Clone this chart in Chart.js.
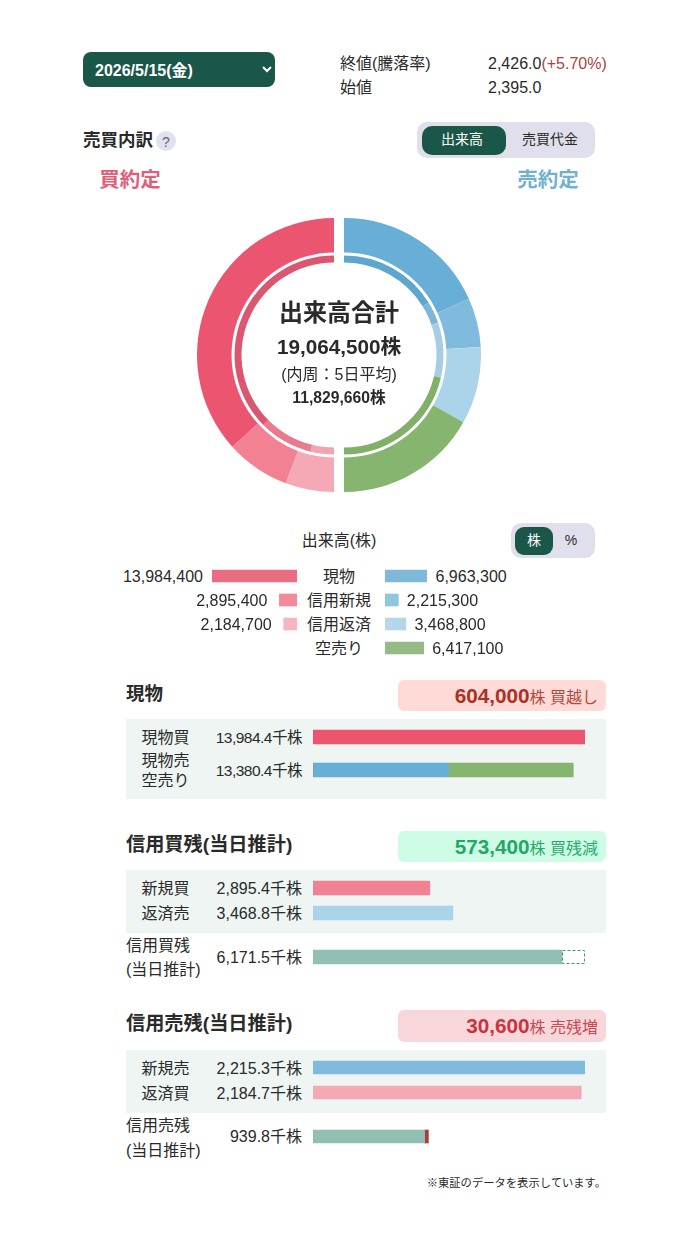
<!DOCTYPE html>
<html lang="ja"><head><meta charset="utf-8"><title>売買内訳</title>
<script src="https://cdn.jsdelivr.net/npm/chart.js@4"></script>
<style>
html,body{margin:0;padding:0;background:#fff;width:696px;height:1238px;overflow:hidden}
body{position:relative;font-family:"Liberation Sans","Noto Sans CJK JP",sans-serif;color:#2a2a2a}
.t{position:absolute;white-space:nowrap;line-height:1;transform:translateY(-50%)}
.c{transform:translate(-50%,-50%)}
.box{position:absolute}
canvas{position:absolute;display:block}
select{position:absolute;left:83px;top:52px;width:192px;height:35px;border:0;border-radius:8px;background:#1b5748;color:#fff;font:bold 16px "Liberation Sans","Noto Sans CJK JP",sans-serif;padding:2px 0 0 8px}
</style></head><body>
<script>
// ---- values ----
const buyLabels  = ['信用返済','信用新規','現物'];
const buyToday   = [2184700, 2895400, 13984400];
const buyAverage = [899000, 2077000, 8853660];
const sellLabels  = ['現物','信用新規','信用返済','空売り'];
const sellToday   = [6963300, 2215300, 3468800, 6417100];
const sellAverage = [3825000, 841000, 2116000, 5047660];
const legendBuy  = [13984400, 2895400, 2184700];
const legendSell = [6963300, 2215300, 3468800, 6417100];
const legendRows = ['現物','信用新規','信用返済','空売り'];
const genbutsuRows = ['現物買','現物売'];
const genbutsuBuy  = [13984.4, 0];
const genbutsuSell = [0, 6963.3];
const genbutsuShort = [0, 6417.1];
const genbutsuTotal = [13984.4, 13380.4];
const marginLongRows = ['新規買','返済売'];
const marginLongVals = [2895.4, 3468.8];
const marginLongRemain = [6171.5];
const marginLongDelta = [573.4];
const marginShortRows = ['新規売','返済買'];
const marginShortVals = [2215.3, 2184.7];
const marginShortRemain = [909.2];
const marginShortDelta = [30.6];
const marginShortTotal = 939.8;

// ---- colours ----
const RED='#ec5570',PINK='#f18193',LPINK='#f5a9b5',BLUE='#67afd6',MBLUE='#80bbdd',LBLUE='#abd3e9',GREEN='#85b56f',TEAL='#92bfb3';
const RED2='#db566f',PINK2='#ea7a8d',LPINK2='#f2a5b1',BLUE2='#5fa6cd',MBLUE2='#7db6d7',LBLUE2='#a6cde4',GREEN2='#80b06a';

function t(x,y,text,css,align){
  const s=document.createElement('span');
  s.className='t'+(align==='c'?' c':'');
  if(align==='r'){s.style.right=(696-x)+'px';}else{s.style.left=x+'px';}
  if(/font-size:1[56](\.5)?px|font-size:1[789]|font-size:20\.5|font-size:11/.test(css||'')) y+=1;
  s.style.top=y+'px';
  s.style.cssText+=';'+(css||'');
  s.innerHTML=text;
  document.body.appendChild(s);return s;
}
function box(x,y,w,h,bg,r){
  const d=document.createElement('div');d.className='box';
  d.style.cssText=`left:${x}px;top:${y}px;width:${w}px;height:${h}px;background:${bg};border-radius:${r||0}px`;
  document.body.appendChild(d);
}
function canvas(x,y,w,h){
  const c=document.createElement('canvas');
  c.style.left=x+'px';c.style.top=y+'px';c.width=w;c.height=h;c.style.width=w+'px';c.style.height=h+'px';
  document.body.appendChild(c);return c;
}
const fmt=n=>n.toLocaleString('en-US');
const fmt1=n=>n.toLocaleString('en-US',{minimumFractionDigits:1,maximumFractionDigits:1});

// header
const sel=document.createElement('select');sel.innerHTML='<option>2026/5/15(金)</option>';document.body.appendChild(sel);
t(340,63,'終値(騰落率)','font-size:16px');
t(340,87,'始値','font-size:16px');
t(488,63,'2,426.0<span style="color:#a8463e">(+5.70%)</span>','font-size:16px');
t(488,87,'2,395.0','font-size:16px');
t(83,140,'売買内訳','font-size:17.5px;font-weight:bold');
box(156,131,20,20,'#e0e3ee',10);
t(166,142,'?','font-size:14px;color:#667',"c");
box(417,122,178,36,'#e0e0ec',10);
box(422,126,84,29,'#1b5748',10);
t(462,139,'出来高','font-size:14px;color:#fff','c');
t(550,139,'売買代金','font-size:14px','c');
t(130,179,'買約定','font-size:20.5px;font-weight:bold;color:#df6079','c');
t(548,179,'売約定','font-size:20.5px;font-weight:bold;color:#6fb2d0','c');

// donut: two half rings pulled apart
function halfRing(x,rotation,today,average,colors,innerColors,labels){
  new Chart(canvas(x,218,137,274),{type:'doughnut',
    data:{labels,datasets:[
      {data:today,backgroundColor:colors,borderWidth:0,weight:34.5},
      {data:[1],backgroundColor:'rgba(0,0,0,0)',borderWidth:0,weight:3},
      {data:average,backgroundColor:innerColors,borderWidth:0,weight:7}]},
    options:{responsive:false,animation:false,rotation,circumference:180,cutout:'67.5%',
      layout:{padding:0},events:[],plugins:{legend:{display:false},tooltip:{enabled:false}}}});
}
halfRing(197,180,buyToday,buyAverage,[LPINK,PINK,RED],[LPINK2,PINK2,RED2],buyLabels);
halfRing(344,0,sellToday,sellAverage,[BLUE,MBLUE,LBLUE,GREEN],[BLUE2,MBLUE2,LBLUE2,GREEN2],sellLabels);
t(339,313,'出来高合計','font-size:24px;font-weight:bold','c');
t(339,347,'19,064,500株','font-size:20.7px;font-weight:bold','c');
t(339,374,'(内周：5日平均)','font-size:16px','c');
t(339,398,'11,829,660株','font-size:15.7px;font-weight:bold','c');

// generic horizontal bars
const dashPlugin={id:'dash',afterDatasetsDraw(chart){
  chart.data.datasets.forEach((d,i)=>{ if(!d.dashed) return;
    chart.getDatasetMeta(i).data.forEach(el=>{
      const c=chart.ctx;c.save();c.strokeStyle='#3c9a80';c.lineWidth=1;c.setLineDash([3,2]);
      const l=Math.round(Math.min(el.x,el.base))+.5,r=Math.round(Math.max(el.x,el.base))-.5;
      const top=Math.round(el.y-el.height/2)+.5,h=Math.round(el.height)-1;
      c.strokeRect(l,top,r-l,h);c.restore();});});
}};
function bars(x,y,w,h,labels,datasets,max,thick,reverse,pad){
  return new Chart(canvas(x,y,w,h),{type:'bar',
    data:{labels,datasets:datasets.map(d=>Object.assign({borderWidth:0,barThickness:thick},d))},
    options:{indexAxis:'y',responsive:false,animation:false,events:[],
      layout:{padding:Object.assign({left:0,right:0,top:0,bottom:0},pad||{})},
      scales:{x:{display:false,stacked:true,min:0,max,reverse:!!reverse},y:{display:false,stacked:true}},
      plugins:{legend:{display:false},tooltip:{enabled:false}}},
    plugins:[dashPlugin]});
}

// legend
t(339,540,'出来高(株)','font-size:16px','c');
box(511,523,84,35,'#e0e0ec',10);
box(515,527,38,28,'#1b5748',9);
t(534,540,'株','font-size:14px;color:#fff','c');
t(571,540,'%','font-size:14px','c');
const leftRowColors=['#ea6d82','#f28a9a','#f5b6c1'];
const rightRowColors=['#80b8da','#90c7e0','#b6d6ea','#96ba85'];
const lg=bars(212,564,85,72,legendBuy.map((_,i)=>legendRows[i]),[{data:legendBuy,backgroundColor:leftRowColors}],legendBuy[0],12,true);
const rg=bars(385,564,42,96,legendRows,[{data:legendSell,backgroundColor:rightRowColors}],legendSell[0],12);
const legendGaps=[9,12,12];
legendRows.forEach((r,i)=>t(339,576+i*24,r,'font-size:16px','c'));
legendBuy.forEach((v,i)=>t(212+lg.scales.x.getPixelForValue(v)-legendGaps[i],576+i*24,fmt(v),'font-size:16px','r'));
legendSell.forEach((v,i)=>t(385+rg.scales.x.getPixelForValue(v)+8.5,576+i*24,fmt(v),'font-size:16px'));

// section 現物
t(126,693,'現物','font-size:18.5px;font-weight:bold');
box(398,680,208,31,'#ffdad6',6);
t(598,696,'<span style="font-size:20.7px;font-weight:bold;color:#a93226">604,000</span><span style="font-size:16px;color:#b5493e">株 買越し</span>','','r');
box(126,719,480,80,'#eef5f3');
t(165.5,737,genbutsuRows[0],'font-size:16px','c');
t(165.5,760,genbutsuRows[1],'font-size:16px','c');
t(165.5,780,'空売り','font-size:16px','c');
t(302,737,fmt1(genbutsuTotal[0])+'千株','font-size:15.5px;letter-spacing:-.5px','r');
t(302,770,fmt1(genbutsuTotal[1])+'千株','font-size:15.5px;letter-spacing:-.5px','r');
bars(313,720,272,67,genbutsuRows,[
  {data:genbutsuBuy,backgroundColor:RED},
  {data:genbutsuSell,backgroundColor:BLUE},
  {data:genbutsuShort,backgroundColor:GREEN}],genbutsuTotal[0],14,false,{top:.5,bottom:.5});

// section 信用買残
t(126,844,'信用買残(当日推計)','font-size:19.2px;font-weight:bold');
box(398,831,208,31,'#cffce5',6);
t(598,847,'<span style="font-size:20.7px;font-weight:bold;color:#1fa868">573,400</span><span style="font-size:16px;color:#2aaa70">株 買残減</span>','','r');
box(126,870,480,63,'#eef5f3');
const longMax=marginLongRemain[0]+marginLongDelta[0];
marginLongRows.forEach((r,i)=>{
  t(165.5,888+i*25,r,'font-size:16px','c');
  t(302,888+i*25,fmt1(marginLongVals[i])+'千株','font-size:16px','r');
});
bars(313,875,272,51,marginLongRows,[{data:marginLongVals,backgroundColor:[PINK,LBLUE]}],longMax,14,false,{top:.5,bottom:.5});
t(126,945,'信用買残','font-size:16px');
t(126,969,'(当日推計)','font-size:16px');
t(302,957,fmt1(marginLongRemain[0])+'千株','font-size:16px','r');
bars(313,947,273,20,['信用買残'],[
  {data:marginLongRemain,backgroundColor:TEAL},
  {data:marginLongDelta,backgroundColor:'rgba(255,255,255,1)',dashed:true}],longMax,14,false,{right:1});

// section 信用売残
t(126,1023,'信用売残(当日推計)','font-size:19.2px;font-weight:bold');
box(398,1010,208,32,'#f8d7da',6);
t(598,1026,'<span style="font-size:20.7px;font-weight:bold;color:#c9343e">30,600</span><span style="font-size:16px;color:#c84a52">株 売残増</span>','','r');
box(126,1050,480,63,'#eef5f3');
const shortMax=marginShortVals[0];
marginShortRows.forEach((r,i)=>{
  t(165.5,1068+i*25,r,'font-size:16px','c');
  t(302,1068+i*25,fmt1(marginShortVals[i])+'千株','font-size:16px','r');
});
bars(313,1055,272,50,marginShortRows,[{data:marginShortVals,backgroundColor:[MBLUE,LPINK]}],shortMax,13);
t(126,1125,'信用売残','font-size:16px');
t(126,1150,'(当日推計)','font-size:16px');
t(302,1136,fmt1(marginShortTotal)+'千株','font-size:16px','r');
bars(313,1126,272,21,['信用売残'],[
  {data:marginShortRemain,backgroundColor:TEAL},
  {data:marginShortDelta,backgroundColor:'#b03a34'}],shortMax,13);

t(606,1183,'※東証のデータを表示しています。','font-size:11.3px','r');
</script>
</body></html>
